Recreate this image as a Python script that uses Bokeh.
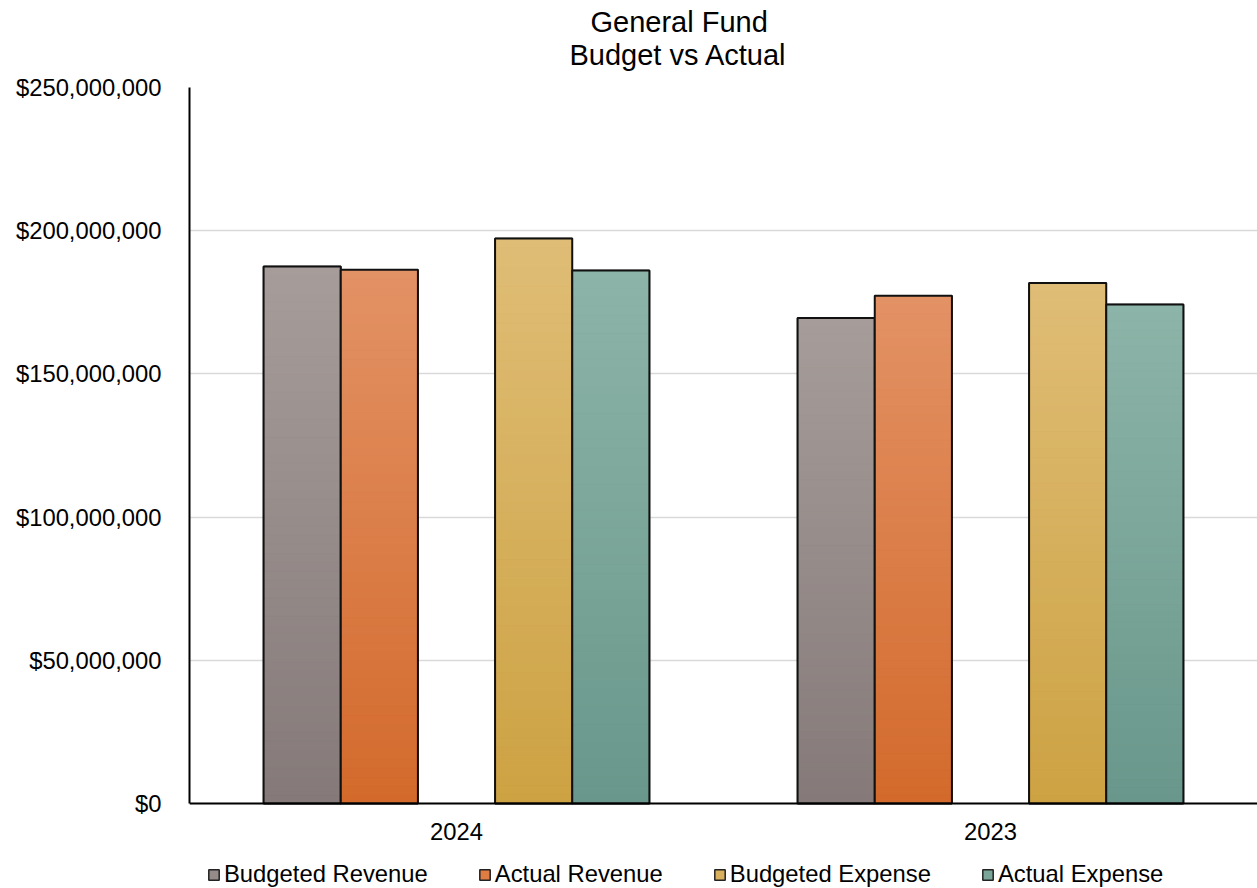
import numpy as np
from bokeh.plotting import figure
from bokeh.models import (FactorRange, Range1d, NumeralTickFormatter, Legend, LegendItem,
                          Title, ColumnDataSource, FixedTicker)
from bokeh.transform import dodge
from bokeh.embed import file_html
from bokeh.resources import INLINE

# ---------------- data ----------------
categories = ["2024", "2023"]
budgeted_revenue = [187_500_000, 169_500_000]
actual_revenue = [186_400_000, 177_300_000]
budgeted_expense = [197_300_000, 181_700_000]
actual_expense = [186_100_000, 174_200_000]
series_names = ["Budgeted Revenue", "Actual Revenue", "Budgeted Expense", "Actual Expense"]
y_ticks = [0, 50_000_000, 100_000_000, 150_000_000, 200_000_000, 250_000_000]

# ---------------- styles / layout ----------------
series_values = [budgeted_revenue, actual_revenue, budgeted_expense, actual_expense]
grad_top = ["#a69d9a", "#e39265", "#dfbd76", "#8db4a8"]
grad_bottom = ["#857a79", "#d36a2c", "#cda243", "#69978b"]
legend_fill = ["#958b89", "#df7d43", "#d9b05c", "#7aa699"]
slots = [-2, -1, 1, 2]
BAR_W = 0.1445
N_STRIPS = 60
FONT = "Liberation Sans"
TICK_FS = "23.8px"
Y_MAX = y_ticks[-1]
PLOT_PX = 716      # pixel height of the 0..Y_MAX region
BELOW_PX = 85      # pixels below the zero line reserved for axis labels + legend
Y_MIN = -Y_MAX * BELOW_PX / PLOT_PX


def hex2rgb(h):
    h = h.lstrip("#")
    return np.array([int(h[i:i + 2], 16) for i in (0, 2, 4)], dtype=float)


def mix(c_bottom, c_top, t):
    c = hex2rgb(c_bottom) * (1 - t) + hex2rgb(c_top) * t
    return "#%02x%02x%02x" % tuple(int(round(v)) for v in c)


p = figure(width=1257, height=888,
           x_range=FactorRange(*categories),
           y_range=Range1d(Y_MIN, Y_MAX),
           output_backend="svg", toolbar_location=None,
           min_border_left=189, min_border_right=0,
           min_border_top=87, min_border_bottom=0)
p.x_range.range_padding = 0
p.x_range.factor_padding = 0
p.outline_line_color = None
p.background_fill_color = "white"
p.border_fill_color = "white"

legend_items = []
for s, (name, vals) in enumerate(zip(series_names, series_values)):
    off = slots[s] * BAR_W
    left = dodge("cat", off - BAR_W / 2, range=p.x_range)
    right = dodge("cat", off + BAR_W / 2, range=p.x_range)
    bsrc = ColumnDataSource(dict(cat=categories, value=vals))
    # solid base bar (also supplies the legend swatch)
    base = p.quad(left=left, right=right, bottom=0, top="value",
                  fill_color=legend_fill[s], line_color="#222222", line_width=1.5,
                  source=bsrc)
    # vertical gradient drawn as thin strips over the base bar
    cats, bots, tops, cols = [], [], [], []
    for c, v in zip(categories, vals):
        for k in range(N_STRIPS):
            cats.append(c)
            bots.append(v * k / N_STRIPS)
            tops.append(v * (k + 1) / N_STRIPS)
            cols.append(mix(grad_bottom[s], grad_top[s], (k + 0.5) / N_STRIPS))
    src = ColumnDataSource(dict(cat=cats, bottom=bots, top=tops, color=cols))
    p.quad(left=left, right=right, bottom="bottom", top="top",
           fill_color="color", line_color="color", line_width=0.8, source=src)
    # outline on top
    p.quad(left=left, right=right, bottom=0, top="value", fill_color=None,
           line_color="#111111", line_width=2, source=bsrc)
    legend_items.append(LegendItem(label=name, renderers=[base]))

# axes
p.yaxis.ticker = FixedTicker(ticks=y_ticks)
p.yaxis.bounds = (0, Y_MAX)
p.yaxis.formatter = NumeralTickFormatter(format="$0,0")
p.yaxis.major_tick_line_color = None
p.yaxis.minor_tick_line_color = None
p.yaxis.major_tick_out = 0
p.yaxis.major_label_standoff = 28
p.yaxis.axis_line_color = "black"
p.yaxis.axis_line_width = 2
p.yaxis.major_label_text_font = FONT
p.yaxis.major_label_text_font_size = TICK_FS
p.yaxis.major_label_text_color = "black"

p.xaxis.fixed_location = 0
p.xaxis.major_tick_line_color = None
p.xaxis.minor_tick_line_color = None
p.xaxis.major_tick_out = 0
p.xaxis.major_label_standoff = 19
p.xaxis.axis_line_color = "black"
p.xaxis.axis_line_width = 2
p.xaxis.major_label_text_font = FONT
p.xaxis.major_label_text_font_size = TICK_FS
p.xaxis.major_label_text_color = "black"

p.xgrid.grid_line_color = None
p.ygrid.grid_line_color = "#d9d9d9"
p.ygrid.grid_line_width = 1.5
p.ygrid.ticker = FixedTicker(ticks=y_ticks)

# titles (later added = further from the plot)
p.add_layout(Title(text="Budget vs Actual", align="left", offset=380,
                   text_font=FONT, text_font_size="29px", text_font_style="normal",
                   text_color="black", standoff=33), "above")
p.add_layout(Title(text="General Fund", align="left", offset=401,
                   text_font=FONT, text_font_size="29px", text_font_style="normal",
                   text_color="black", standoff=-35), "above")

legend = Legend(items=legend_items, orientation="horizontal", location=(18, 0),
                glyph_width=13, glyph_height=13, label_standoff=4, spacing=50,
                padding=0, margin=0, border_line_color=None, background_fill_alpha=0,
                label_text_font=FONT, label_text_font_size=TICK_FS, label_text_color="black")
p.add_layout(legend, "center")

open("out.html", "w").write(file_html(p, INLINE))
